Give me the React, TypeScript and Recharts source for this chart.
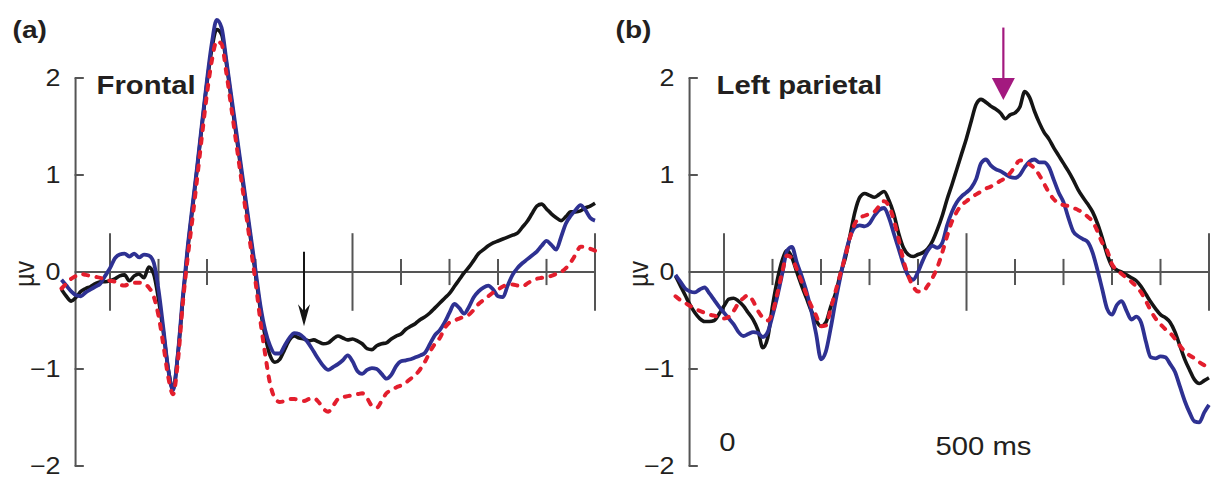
import { LineChart, Line, XAxis, YAxis, ReferenceLine, ReferenceDot } from 'recharts';

// sampling grid, ms
const times = [
  -100, -90, -80, -70, -60, -50, -40, -30, -20, -10,
  0, 10, 20, 30, 40, 50, 60, 70, 80, 90,
  100, 110, 120, 130, 140, 150, 160, 170, 180, 190,
  200, 210, 220, 230, 240, 250, 260, 270, 280, 290,
  300, 310, 320, 330, 340, 350, 360, 370, 380, 390,
  400, 410, 420, 430, 440, 450, 460, 470, 480, 490,
  500, 510, 520, 530, 540, 550, 560, 570, 580, 590,
  600, 610, 620, 630, 640, 650, 660, 670, 680, 690,
  700, 710, 720, 730, 740, 750, 760, 770, 780, 790,
  800, 810, 820, 830, 840, 850, 860, 870, 880, 890,
  900, 910, 920, 930, 940, 950, 960, 970, 980, 990,
  1000,
];

// (a) frontal, µV
const frontalBlack = [
  -0.18, -0.25, -0.30, -0.26, -0.20, -0.17, -0.15, -0.12, -0.10, -0.10,
  -0.09, -0.07, -0.04, -0.03, -0.09, -0.04, -0.02, -0.06, 0.05, -0.02,
  -0.28, -0.62, -1.00, -1.21, -0.85, -0.30, 0.22, 0.65, 1.08, 1.52,
  1.95, 2.30, 2.50, 2.45, 2.15, 1.78, 1.42, 1.06, 0.70, 0.34,
  -0.02, -0.38, -0.66, -0.86, -0.93, -0.90, -0.80, -0.70, -0.66, -0.68,
  -0.69, -0.71, -0.70, -0.72, -0.74, -0.73, -0.69, -0.66, -0.68, -0.70,
  -0.69, -0.71, -0.74, -0.79, -0.80, -0.76, -0.74, -0.73, -0.69, -0.66,
  -0.64, -0.59, -0.56, -0.53, -0.49, -0.46, -0.42, -0.37, -0.32, -0.27,
  -0.22, -0.15, -0.08, -0.01, 0.05, 0.12, 0.19, 0.23, 0.27, 0.30,
  0.32, 0.34, 0.36, 0.38, 0.40, 0.46, 0.52, 0.60, 0.68, 0.70,
  0.65, 0.60, 0.56, 0.53, 0.57, 0.62, 0.62, 0.63, 0.66, 0.68,
  0.71,
];
const frontalBlue = [
  -0.08, -0.14, -0.20, -0.24, -0.25, -0.21, -0.18, -0.15, -0.12, -0.04,
  0.04, 0.14, 0.18, 0.19, 0.16, 0.19, 0.15, 0.18, 0.17, 0.10,
  -0.18, -0.58, -1.00, -1.22, -0.84, -0.26, 0.25, 0.68, 1.10, 1.55,
  1.98, 2.36, 2.60, 2.52, 2.18, 1.82, 1.46, 1.10, 0.74, 0.38,
  0.02, -0.34, -0.60, -0.76, -0.84, -0.84, -0.76, -0.68, -0.63, -0.64,
  -0.68, -0.74, -0.82, -0.90, -0.97, -1.01, -0.98, -0.95, -0.91, -0.86,
  -0.92, -1.02, -1.05, -1.01, -0.99, -1.00, -1.05, -1.10, -1.06, -0.97,
  -0.92, -0.91, -0.90, -0.88, -0.86, -0.83, -0.74, -0.65, -0.60, -0.52,
  -0.42, -0.33, -0.37, -0.43, -0.36, -0.26, -0.20, -0.16, -0.14, -0.18,
  -0.25, -0.26, -0.14, -0.03, 0.04, 0.09, 0.13, 0.17, 0.21, 0.27,
  0.32, 0.28, 0.23, 0.36, 0.50, 0.58, 0.64, 0.69, 0.64, 0.56,
  0.53,
];
const frontalRed = [
  -0.17, -0.12, -0.07, -0.04, -0.02, -0.03, -0.04, -0.05, -0.06, -0.08,
  -0.09, -0.10, -0.13, -0.14, -0.12, -0.11, -0.11, -0.12, -0.16, -0.25,
  -0.45, -0.75, -1.08, -1.26, -0.92, -0.33, 0.14, 0.55, 0.98, 1.42,
  1.84, 2.18, 2.38, 2.35, 2.05, 1.70, 1.34, 0.98, 0.62, 0.26,
  -0.10, -0.50, -0.85, -1.15, -1.30, -1.34, -1.33, -1.31, -1.31, -1.32,
  -1.33, -1.31, -1.30, -1.34, -1.41, -1.44, -1.38, -1.31, -1.29, -1.28,
  -1.27, -1.26, -1.25, -1.30, -1.38, -1.40, -1.33, -1.25, -1.22, -1.19,
  -1.17, -1.14, -1.10, -1.06, -1.00, -0.92, -0.82, -0.74, -0.68, -0.58,
  -0.52, -0.50, -0.48, -0.46, -0.44, -0.39, -0.33, -0.29, -0.25, -0.21,
  -0.18, -0.15, -0.13, -0.13, -0.14, -0.15, -0.12, -0.09, -0.07, -0.06,
  -0.05, -0.04, -0.02, 0.00, 0.04, 0.10, 0.18, 0.26, 0.26, 0.24,
  0.22,
];

// (b) left parietal, µV
const parietalBlack = [
  -0.04, -0.14, -0.24, -0.34, -0.42, -0.48, -0.51, -0.51, -0.50, -0.43,
  -0.35, -0.28, -0.27, -0.30, -0.35, -0.42, -0.49, -0.60, -0.78, -0.68,
  -0.35, -0.08, 0.12, 0.22, 0.15, 0.00, -0.14, -0.27, -0.40, -0.50,
  -0.56, -0.52, -0.36, -0.22, -0.02, 0.14, 0.38, 0.62, 0.77, 0.81,
  0.79, 0.77, 0.80, 0.83, 0.74, 0.60, 0.40, 0.25, 0.18, 0.16,
  0.18, 0.20, 0.24, 0.32, 0.44, 0.58, 0.75, 0.90, 1.06, 1.22,
  1.38, 1.56, 1.73, 1.78, 1.75, 1.71, 1.68, 1.64, 1.58, 1.62,
  1.64, 1.70, 1.86, 1.80, 1.66, 1.54, 1.44, 1.37, 1.28, 1.20,
  1.12, 1.04, 0.95, 0.85, 0.77, 0.70, 0.62, 0.50, 0.35, 0.18,
  0.06, 0.02, 0.00, -0.03, -0.06, -0.09, -0.15, -0.23, -0.31, -0.38,
  -0.44, -0.47, -0.52, -0.62, -0.76, -0.90, -1.01, -1.11, -1.15, -1.12,
  -1.09,
];
const parietalBlue = [
  -0.03, -0.10, -0.17, -0.20, -0.21, -0.18, -0.16, -0.22, -0.29, -0.36,
  -0.42, -0.48, -0.54, -0.62, -0.66, -0.64, -0.62, -0.63, -0.67, -0.62,
  -0.45, -0.25, -0.02, 0.22, 0.26, 0.10, -0.04, -0.20, -0.40, -0.64,
  -0.90, -0.82, -0.58, -0.30, -0.05, 0.18, 0.36, 0.46, 0.48, 0.47,
  0.50, 0.58, 0.64, 0.66, 0.56, 0.40, 0.24, 0.08, -0.04, -0.08,
  0.00, 0.12, 0.22, 0.27, 0.25, 0.30, 0.48, 0.62, 0.72, 0.78,
  0.82, 0.87, 0.96, 1.12, 1.16, 1.10, 1.06, 1.04, 1.01, 0.98,
  0.97, 1.00, 1.08, 1.14, 1.16, 1.13, 1.13, 1.08, 0.95, 0.82,
  0.72, 0.56, 0.42, 0.37, 0.34, 0.31, 0.20, 0.02, -0.18, -0.38,
  -0.44, -0.34, -0.30, -0.40, -0.49, -0.46, -0.52, -0.72, -0.88, -0.89,
  -0.87, -0.88, -0.95, -1.03, -1.18, -1.33, -1.45, -1.54, -1.55, -1.45,
  -1.37,
];
const parietalRed = [
  -0.25, -0.29, -0.32, -0.35, -0.38, -0.40, -0.42, -0.44, -0.45, -0.47,
  -0.48, -0.46, -0.40, -0.32, -0.27, -0.24, -0.30, -0.40, -0.47, -0.50,
  -0.42, -0.22, 0.00, 0.17, 0.14, 0.03, -0.10, -0.23, -0.35, -0.45,
  -0.56, -0.55, -0.38, -0.20, -0.02, 0.16, 0.36, 0.50, 0.56, 0.58,
  0.60, 0.62, 0.68, 0.73, 0.68, 0.54, 0.34, 0.12, -0.04, -0.15,
  -0.20, -0.20, -0.14, -0.06, 0.05, 0.20, 0.37, 0.52, 0.62, 0.69,
  0.73, 0.77, 0.80, 0.83, 0.86, 0.88, 0.91, 0.94, 0.97, 1.02,
  1.09, 1.15, 1.14, 1.11, 1.07, 1.00, 0.91, 0.82, 0.75, 0.71,
  0.69, 0.68, 0.66, 0.64, 0.61, 0.57, 0.52, 0.42, 0.30, 0.22,
  0.08, 0.02, -0.02, -0.06, -0.10, -0.15, -0.21, -0.30, -0.40, -0.48,
  -0.54, -0.59, -0.63, -0.69, -0.76, -0.82, -0.86, -0.89, -0.93, -0.96,
  -0.98,
];

const yTicks = [-2, -1, 0, 1, 2];
const xTicks = [0, 100, 200, 300, 400, 500, 600, 700, 800, 900, 1000];
const majorTicks = [0, 500, 1000];

const FONT = '"Liberation Sans", Arial, Helvetica, sans-serif';
const INK = '#231f20';
const AXIS = '#555555';
const STRETCH = 1.17; // the figure is a bit wider than tall
const Y_AXIS_AT = -71;

function build(black: number[], blue: number[], red: number[]) {
  return times.map((t, i) => ({ t, black: black[i], blue: blue[i], red: red[i] }));
}

function fmt(v: number) {
  return v < 0 ? `\u2212${-v}` : `${v}`;
}

// text drawn at a ReferenceDot position, shifted in pixels
function textShape(
  label: string,
  dx: number,
  dy: number,
  size: number,
  bold = false,
  anchor: 'start' | 'middle' | 'end' = 'start',
  rotate = false,
) {
  return (p: any) => (
    <text
      transform={`translate(${p.cx + dx},${p.cy + dy}) scale(${STRETCH},1)${rotate ? ' rotate(-90)' : ''}`}
      textAnchor={anchor}
      dominantBaseline={rotate ? 'central' : 'auto'}
      fontSize={size}
      fontWeight={bold ? 700 : 400}
      fontFamily={FONT}
      fill={INK}
    >
      {label}
    </text>
  );
}

function arrowHead(points: string, color: string) {
  return (p: any) => (
    <polygon transform={`translate(${p.cx},${p.cy})`} points={points} fill={color} stroke="none" />
  );
}

interface PanelProps {
  left: number;
  tag: string;
  tagDx: number;
  title: string;
  titleDx: number;
  data: any[];
  frontal: boolean;
}

function Panel({ left, tag, tagDx, title, titleDx, data, frontal }: PanelProps) {
  return (
    <div style={{ position: 'absolute', left, top: 0 }}>
      <LineChart
        width={600}
        height={479}
        data={data}
        margin={{ top: 10.1, right: 5, bottom: 3.3, left: 61.5 }}
      >
        <XAxis type="number" dataKey="t" domain={[-100, 1000]} hide />
        <YAxis type="number" domain={[-2.1, 2.7]} hide />

        {/* axes */}
        <ReferenceLine
          segment={[{ x: Y_AXIS_AT, y: -2 }, { x: Y_AXIS_AT, y: 2 }]}
          stroke={AXIS}
          strokeWidth={2}
        />
        {yTicks.map((v) => (
          <ReferenceLine
            key={`yt${v}`}
            segment={[{ x: Y_AXIS_AT - 2, y: v }, { x: Y_AXIS_AT + 17, y: v }]}
            stroke={AXIS}
            strokeWidth={2}
          />
        ))}
        <ReferenceLine
          segment={[{ x: Y_AXIS_AT, y: 0 }, { x: 1000, y: 0 }]}
          stroke={AXIS}
          strokeWidth={2}
        />
        {xTicks
          .filter((t) => !(frontal && t === 400))
          .map((t) => {
            const h = majorTicks.includes(t) ? 0.4 : 0.135;
            return (
              <ReferenceLine
                key={`xt${t}`}
                segment={[{ x: t, y: h }, { x: t, y: -h }]}
                stroke={AXIS}
                strokeWidth={2}
              />
            );
          })}

        {/* y tick labels and unit */}
        {yTicks.map((v) => (
          <ReferenceDot
            key={`yl${v}`}
            x={Y_AXIS_AT}
            y={v}
            r={0}
            shape={textShape(fmt(v), -15, 8, 23, false, 'end')}
          />
        ))}
        <ReferenceDot x={Y_AXIS_AT} y={0} r={0} shape={textShape('µv', -51, 2, 24, false, 'middle', true)} />

        {/* panel tag and title */}
        <ReferenceDot x={Y_AXIS_AT} y={2.41} r={0} shape={textShape(tag, tagDx, 0, 24, true)} />
        <ReferenceDot x={Y_AXIS_AT} y={1.83} r={0} shape={textShape(title, titleDx, 0, 25, true)} />

        {!frontal && (
          <ReferenceDot x={0} y={-1.85} r={0} shape={textShape('0', 3.5, 0, 25, false, 'middle')} />
        )}
        {!frontal && (
          <ReferenceDot x={500} y={-1.89} r={0} shape={textShape('500 ms', -31, 0, 25)} />
        )}

        <Line
          type="monotone"
          dataKey="black"
          stroke="#151515"
          strokeWidth={3.6}
          strokeLinejoin="round"
          dot={false}
          isAnimationActive={false}
        />
        <Line
          type="monotone"
          dataKey="blue"
          stroke="#2e3192"
          strokeWidth={3.8}
          strokeLinejoin="round"
          dot={false}
          isAnimationActive={false}
        />
        <Line
          type="monotone"
          dataKey="red"
          stroke="#e31e2d"
          strokeWidth={4}
          strokeDasharray="5 8.5"
          strokeLinecap="round"
          dot={false}
          isAnimationActive={false}
        />

        {/* arrows */}
        {frontal && (
          <ReferenceLine
            segment={[{ x: 400, y: 0.21 }, { x: 400, y: -0.42 }]}
            stroke="#151515"
            strokeWidth={2}
          />
        )}
        {frontal && (
          <ReferenceDot x={400} y={-0.56} r={0} shape={arrowHead('0,0 -6,-22 0,-15 6,-22', '#151515')} />
        )}
        {!frontal && (
          <ReferenceLine
            segment={[{ x: 576, y: 2.52 }, { x: 576, y: 1.98 }]}
            stroke="#a3197f"
            strokeWidth={2.2}
          />
        )}
        {!frontal && (
          <ReferenceDot x={576} y={1.773} r={0} shape={arrowHead('0,0 -11.5,-22 11.5,-22', '#a3197f')} />
        )}
      </LineChart>
    </div>
  );
}

export default function App() {
  const frontalData = build(frontalBlack, frontalBlue, frontalRed);
  const parietalData = build(parietalBlack, parietalBlue, parietalRed);
  return (
    <div style={{ position: 'absolute', left: 0, top: 0, width: 1214, height: 479, background: '#fff' }}>
      <Panel left={0} tag="(a)" tagDx={-63} title="Frontal" titleDx={21} data={frontalData} frontal />
      <Panel
        left={614}
        tag="(b)"
        tagDx={-74}
        title="Left parietal"
        titleDx={27}
        data={parietalData}
        frontal={false}
      />
    </div>
  );
}
